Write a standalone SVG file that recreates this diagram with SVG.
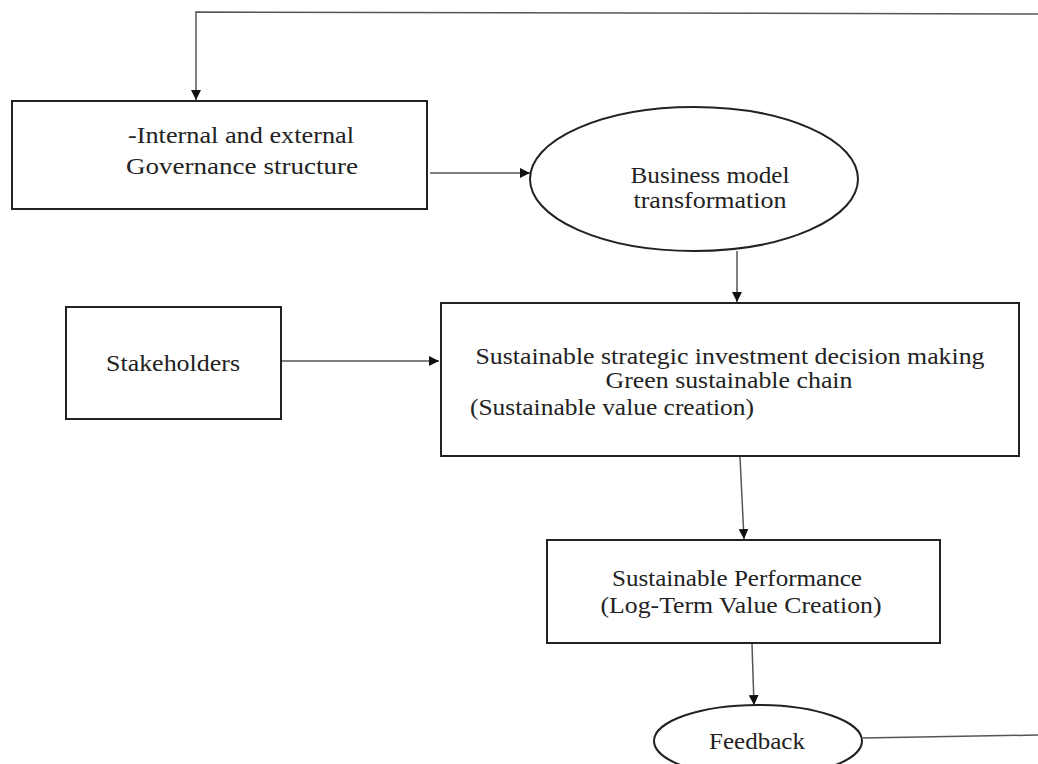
<svg xmlns="http://www.w3.org/2000/svg" width="1038" height="764" viewBox="0 0 1038 764">
<style>
.box{fill:#fff;stroke:#222;stroke-width:2}
.t{font-family:"Liberation Serif","Times New Roman",serif;font-size:23px;fill:#222;text-anchor:middle}
.tl{font-family:"Liberation Serif","Times New Roman",serif;font-size:23px;fill:#222}
.c{fill:none;stroke:#555;stroke-width:1.5}
</style>
<defs>
<marker id="ah" viewBox="0 0 10 10" refX="10" refY="5" markerWidth="10" markerHeight="10" markerUnits="userSpaceOnUse" orient="auto">
<path d="M0,0 L10,5 L0,10 z" fill="#111"/>
</marker>
</defs>
<rect width="1038" height="764" fill="#fff"/>
<g id="connectors">
<polyline class="c" points="1038,14 196,12 196,100" marker-end="url(#ah)"/>
<line class="c" x1="430" y1="173" x2="530" y2="173" marker-end="url(#ah)"/>
<line class="c" x1="737" y1="251" x2="737" y2="302" marker-end="url(#ah)"/>
<line class="c" x1="276" y1="361" x2="439" y2="361" marker-end="url(#ah)"/>
<line class="c" x1="740" y1="457" x2="744" y2="539" marker-end="url(#ah)"/>
<line class="c" x1="752" y1="644" x2="754" y2="705" marker-end="url(#ah)"/>
<line class="c" x1="863" y1="738" x2="1038" y2="735"/>
</g>
<g id="governance">
<rect class="box" x="12" y="101" width="415" height="108"/>
<text class="t" x="241" y="143" textLength="226" lengthAdjust="spacingAndGlyphs">-Internal and external</text>
<text class="t" x="242" y="174" textLength="232" lengthAdjust="spacingAndGlyphs">Governance structure</text>
</g>
<g id="business-model">
<ellipse class="box" cx="694" cy="179" rx="164" ry="72"/>
<text class="t" x="710" y="183" font-size="22" textLength="159" lengthAdjust="spacingAndGlyphs">Business model</text>
<text class="t" x="710" y="208" font-size="22" textLength="153" lengthAdjust="spacingAndGlyphs">transformation</text>
</g>
<g id="stakeholders">
<rect class="box" x="66" y="307" width="215" height="112"/>
<text class="t" x="173" y="371" textLength="134" lengthAdjust="spacingAndGlyphs">Stakeholders</text>
</g>
<g id="decision">
<rect class="box" x="441" y="303" width="578" height="153"/>
<text class="t" x="730" y="364" textLength="509" lengthAdjust="spacingAndGlyphs">Sustainable strategic investment decision making</text>
<text class="t" x="729" y="388" textLength="247" lengthAdjust="spacingAndGlyphs">Green sustainable chain</text>
<text class="tl" x="470" y="415" textLength="284" lengthAdjust="spacingAndGlyphs">(Sustainable value creation)</text>
</g>
<g id="performance">
<rect class="box" x="547" y="540" width="393" height="103"/>
<text class="t" x="737" y="586" textLength="250" lengthAdjust="spacingAndGlyphs">Sustainable Performance</text>
<text class="t" x="741" y="613" textLength="281" lengthAdjust="spacingAndGlyphs">(Log-Term Value Creation)</text>
</g>
<g id="feedback">
<ellipse class="box" cx="758" cy="741" rx="104" ry="36"/>
<text class="t" x="757" y="749" textLength="96" lengthAdjust="spacingAndGlyphs">Feedback</text>
</g>
</svg>
